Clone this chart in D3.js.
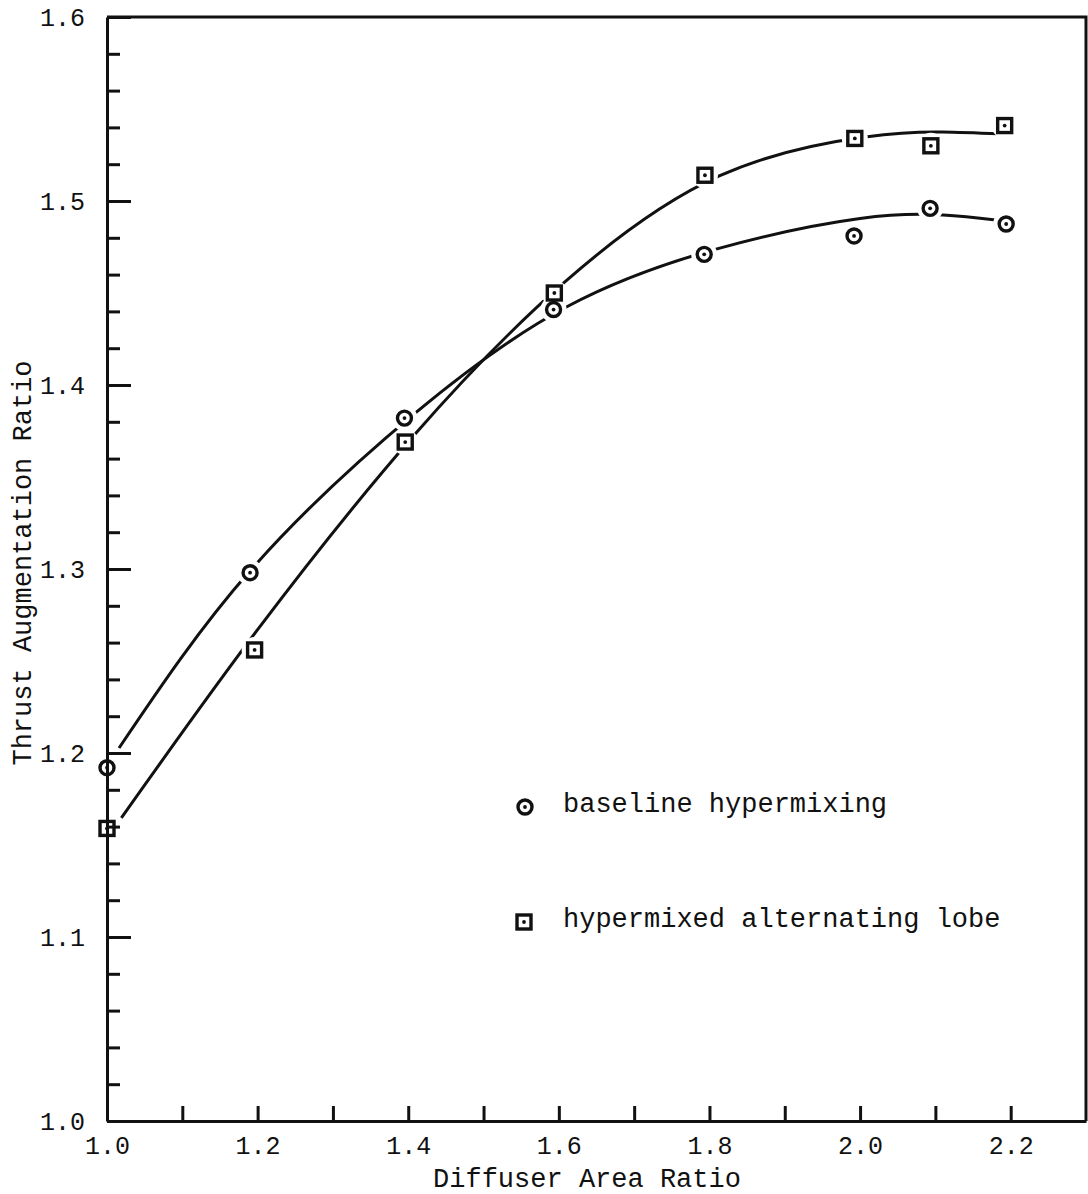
<!DOCTYPE html>
<meta charset="utf-8">
<head>
    <meta charset="utf-8">
    <title>Thrust Augmentation Ratio</title>
    <script src="https://d3js.org/d3.v7.min.js" charset="utf-8"></script>
    <style>
        html, body {
            margin: 0;
            padding: 0;
            background: #fff;
        }
        text {
            font-family: "Liberation Mono", "DejaVu Sans Mono", monospace;
            fill: #111;
        }
        .axis text {
            font-size: 25px;
        }
        .axis path, .axis line, .frame {
            stroke: #111;
            stroke-width: 3px;
            fill: none;
        }
        .axis-title, .legend-label {
            font-size: 27px;
        }
        .curve {
            fill: none;
            stroke: #111;
            stroke-width: 3px;
        }
    </style>
</head>
<body>
<div class="chart"></div>

<script>

/****************************
 1. data
****************************/

// measured points
var baselineX = [1.0, 1.19, 1.395, 1.593, 1.793, 1.992, 2.093, 2.194];
var baselineY = [1.192, 1.298, 1.382, 1.441, 1.471, 1.481, 1.496, 1.4875];

var lobeX = [1.0, 1.196, 1.396, 1.594, 1.794, 1.993, 2.094, 2.192];
var lobeY = [1.159, 1.256, 1.369, 1.450, 1.514, 1.534, 1.530, 1.541];

// faired curves as drawn by hand
var baselineFitX = [1.016, 1.19, 1.41, 1.61, 1.81, 2.0, 2.11, 2.18];
var baselineFitY = [1.2027, 1.299, 1.385, 1.4424, 1.474, 1.4905, 1.4924, 1.4897];

var lobeFitX = [1.019, 1.2, 1.408, 1.608, 1.813, 2.007, 2.109, 2.185];
var lobeFitY = [1.1647, 1.267, 1.3728, 1.456, 1.5136, 1.5348, 1.5375, 1.5365];

// axes
var xTickValues = [1.0, 1.1, 1.2, 1.3, 1.4, 1.5, 1.6, 1.7, 1.8, 1.9, 2.0, 2.1, 2.2];
var xLabelValues = [1.0, 1.2, 1.4, 1.6, 1.8, 2.0, 2.2];
var yMajorValues = [1.0, 1.1, 1.2, 1.3, 1.4, 1.5, 1.6];
var yMinorValues = d3.range(1.02, 1.6, 0.02).filter(v => Math.abs(v * 10 - Math.round(v * 10)) > 0.01);

var xTitle = "Diffuser Area Ratio";
var yTitle = "Thrust Augmentation Ratio";
var legendNames = ["baseline hypermixing", "hypermixed alternating lobe"];

function zip(xs, ys) {
    return xs.map((x, i) => ({x: x, y: ys[i]}));
}

var baseline = zip(baselineX, baselineY);
var lobe = zip(lobeX, lobeY);
var baselineFit = zip(baselineFitX, baselineFitY);
var lobeFit = zip(lobeFitX, lobeFitY);


/****************************
 2. svg
****************************/

var width = 1088, height = 1194;

var svg = d3.select(".chart")
    .append("svg")
    .attr("width", width)
    .attr("height", height);

var xScale = d3.scaleLinear().domain([1.0, 2.3]).range([107, 1086]);
var yScale = d3.scaleLinear().domain([1.0, 1.6]).range([1121, 17]);

var line = d3.line()
    .curve(d3.curveNatural)
    .x(d => xScale(d.x))
    .y(d => yScale(d.y));


/****************************
 3. curves + gaps round the symbols
****************************/

svg.selectAll(".curve")
    .data([baselineFit, lobeFit])
    .enter()
    .append("path")
    .attr("class", "curve")
    .attr("d", d => line(d));

svg.append("g")
    .selectAll("circle")
    .data(baseline.concat(lobe))
    .enter()
    .append("circle")
    .attr("cx", d => xScale(d.x))
    .attr("cy", d => yScale(d.y))
    .attr("r", 13)
    .attr("fill", "#fff");


/****************************
 4. axes and frame
****************************/

// y axis minor ticks
svg.append("g")
    .attr("class", "axis")
    .attr("transform", "translate(" + xScale(1.0) + ",0)")
    .call(d3.axisLeft(yScale).tickValues(yMinorValues).tickSize(-13).tickFormat(""))
    .call(g => g.select(".domain").remove());

// y axis major ticks + labels
svg.append("g")
    .attr("class", "axis")
    .attr("transform", "translate(" + xScale(1.0) + ",0)")
    .call(d3.axisLeft(yScale).tickValues(yMajorValues).tickSize(-24).tickSizeOuter(0)
        .tickPadding(22).tickFormat(d3.format(".1f")));

// x axis
svg.append("g")
    .attr("class", "axis")
    .attr("transform", "translate(0," + yScale(1.0) + ")")
    .call(d3.axisBottom(xScale).tickValues(xTickValues).tickSize(-15).tickSizeOuter(0)
        .tickPadding(15)
        .tickFormat(d => xLabelValues.some(v => Math.abs(v - d) < 1e-6) ? d3.format(".1f")(d) : ""));

// top and right frame
svg.append("path")
    .attr("class", "frame")
    .attr("d", "M" + xScale(1.0) + "," + yScale(1.6) + "H" + xScale(2.3) + "V" + yScale(1.0));

svg.append("text")
    .attr("class", "axis-title")
    .attr("x", 587)
    .attr("y", 1187)
    .attr("text-anchor", "middle")
    .text(xTitle);

svg.append("text")
    .attr("class", "axis-title")
    .attr("transform", "translate(31,563) rotate(-90)")
    .attr("text-anchor", "middle")
    .text(yTitle);


/****************************
 5. symbols
****************************/

function drawCircle(g, cx, cy) {
    g.append("circle").attr("cx", cx).attr("cy", cy).attr("r", 7)
        .attr("fill", "none").attr("stroke", "#111").attr("stroke-width", 3.4);
    g.append("circle").attr("cx", cx).attr("cy", cy).attr("r", 1.9).attr("fill", "#111");
}

function drawSquare(g, cx, cy) {
    g.append("rect").attr("x", cx - 7).attr("y", cy - 7).attr("width", 14).attr("height", 14)
        .attr("fill", "none").attr("stroke", "#111").attr("stroke-width", 3.4);
    g.append("circle").attr("cx", cx).attr("cy", cy).attr("r", 1.9).attr("fill", "#111");
}

var symbols = svg.append("g");
baseline.forEach(d => drawCircle(symbols, xScale(d.x), yScale(d.y)));
lobe.forEach(d => drawSquare(symbols, xScale(d.x), yScale(d.y)));


/****************************
 6. legend
****************************/

var legend = svg.append("g");
drawCircle(legend, 525, 807);
drawSquare(legend, 524, 922);

legend.selectAll(".legend-label")
    .data(legendNames)
    .enter()
    .append("text")
    .attr("class", "legend-label")
    .attr("x", 563)
    .attr("y", (d, i) => i == 0 ? 812 : 927)
    .text(d => d);

</script>
</body>
</html>
